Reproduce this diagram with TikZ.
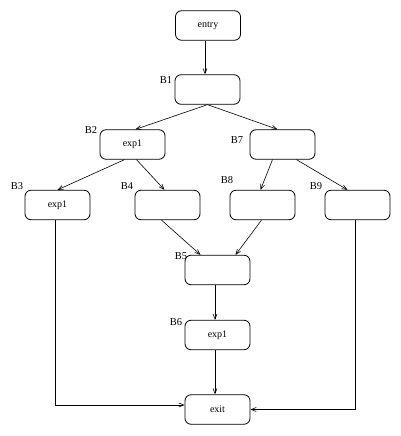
\documentclass[tikz,border=0pt]{standalone}
\usepackage{fontspec}
\setmainfont{Liberation Serif}
\usetikzlibrary{arrows.meta}
\begin{document}
\begin{tikzpicture}[x=1pt,y=-1pt,
  blk/.style={draw,line width=0.8pt,rounded corners=6pt,minimum width=65pt,minimum height=29.5pt,inner sep=0pt,font=\fontsize{10}{12}\selectfont},
  lbl/.style={font=\fontsize{10.5}{12}\selectfont,inner sep=0pt},
  arr/.style={-{Straight Barb[length=5pt,width=4pt]},line width=0.6pt},
  ln/.style={line width=0.6pt}]
\useasboundingbox (0,0) rectangle (401,436);
\node[blk] (entry) at (208,25.5) {entry};
\node[blk] (b1) at (207.5,89.5) {};
\node[blk] (b2) at (132.5,144.5) {exp1};
\node[blk] (b7) at (282.5,144.5) {};
\node[blk] (b3) at (57.5,205) {exp1};
\node[blk] (b4) at (167.5,205) {};
\node[blk] (b8) at (262.5,205) {};
\node[blk] (b9) at (357.5,205) {};
\node[blk] (b5) at (217.5,270) {};
\node[blk] (b6) at (217.5,335) {exp1};
\node[blk] (exit) at (217.5,409.5) {exit};
\node[lbl] (l1) at (166,80) {B1};
\node[lbl] (l2) at (91,130) {B2};
\node[lbl] (l3) at (17,186) {B3};
\node[lbl] (l4) at (127,186) {B4};
\node[lbl] (l7) at (237,140) {B7};
\node[lbl] (l8) at (227,180) {B8};
\node[lbl] (l9) at (316,186) {B9};
\node[lbl] (l5) at (181,256) {B5};
\node[lbl] (l6) at (176,322) {B6};
\draw[arr] ([xshift=-3pt]entry.south) -- ([xshift=-2.5pt]b1.north);
\draw[arr] (b1.south) -- ([xshift=3pt]b2.north);
\draw[arr] (b1.south) -- ([xshift=-5pt]b7.north);
\draw[arr] ([xshift=-8pt]b2.south) -- ([xshift=0pt]b3.north);
\draw[arr] ([xshift=4pt]b2.south) -- ([xshift=-3pt]b4.north);
\draw[arr] ([xshift=-10pt]b7.south) -- ([xshift=-2pt]b8.north);
\draw[arr] ([xshift=14pt]b7.south) -- ([xshift=-10pt]b9.north);
\draw[arr] ([xshift=-6pt]b4.south) -- ([xshift=-17pt]b5.north);
\draw[arr] ([xshift=-1pt]b8.south) -- ([xshift=18pt]b5.north);
\draw[arr] ([xshift=-2.5pt]b5.south) -- ([xshift=-2.5pt]b6.north);
\draw[arr] ([xshift=-2.5pt]b6.south) -- ([xshift=-2.5pt]exit.north);
\draw[arr] ([xshift=-2.5pt]b3.south) |- ([yshift=4.5pt]exit.west);
\draw[arr] ([xshift=-2.5pt]b9.south) |- ([yshift=0pt]exit.east);
\end{tikzpicture}
\end{document}
